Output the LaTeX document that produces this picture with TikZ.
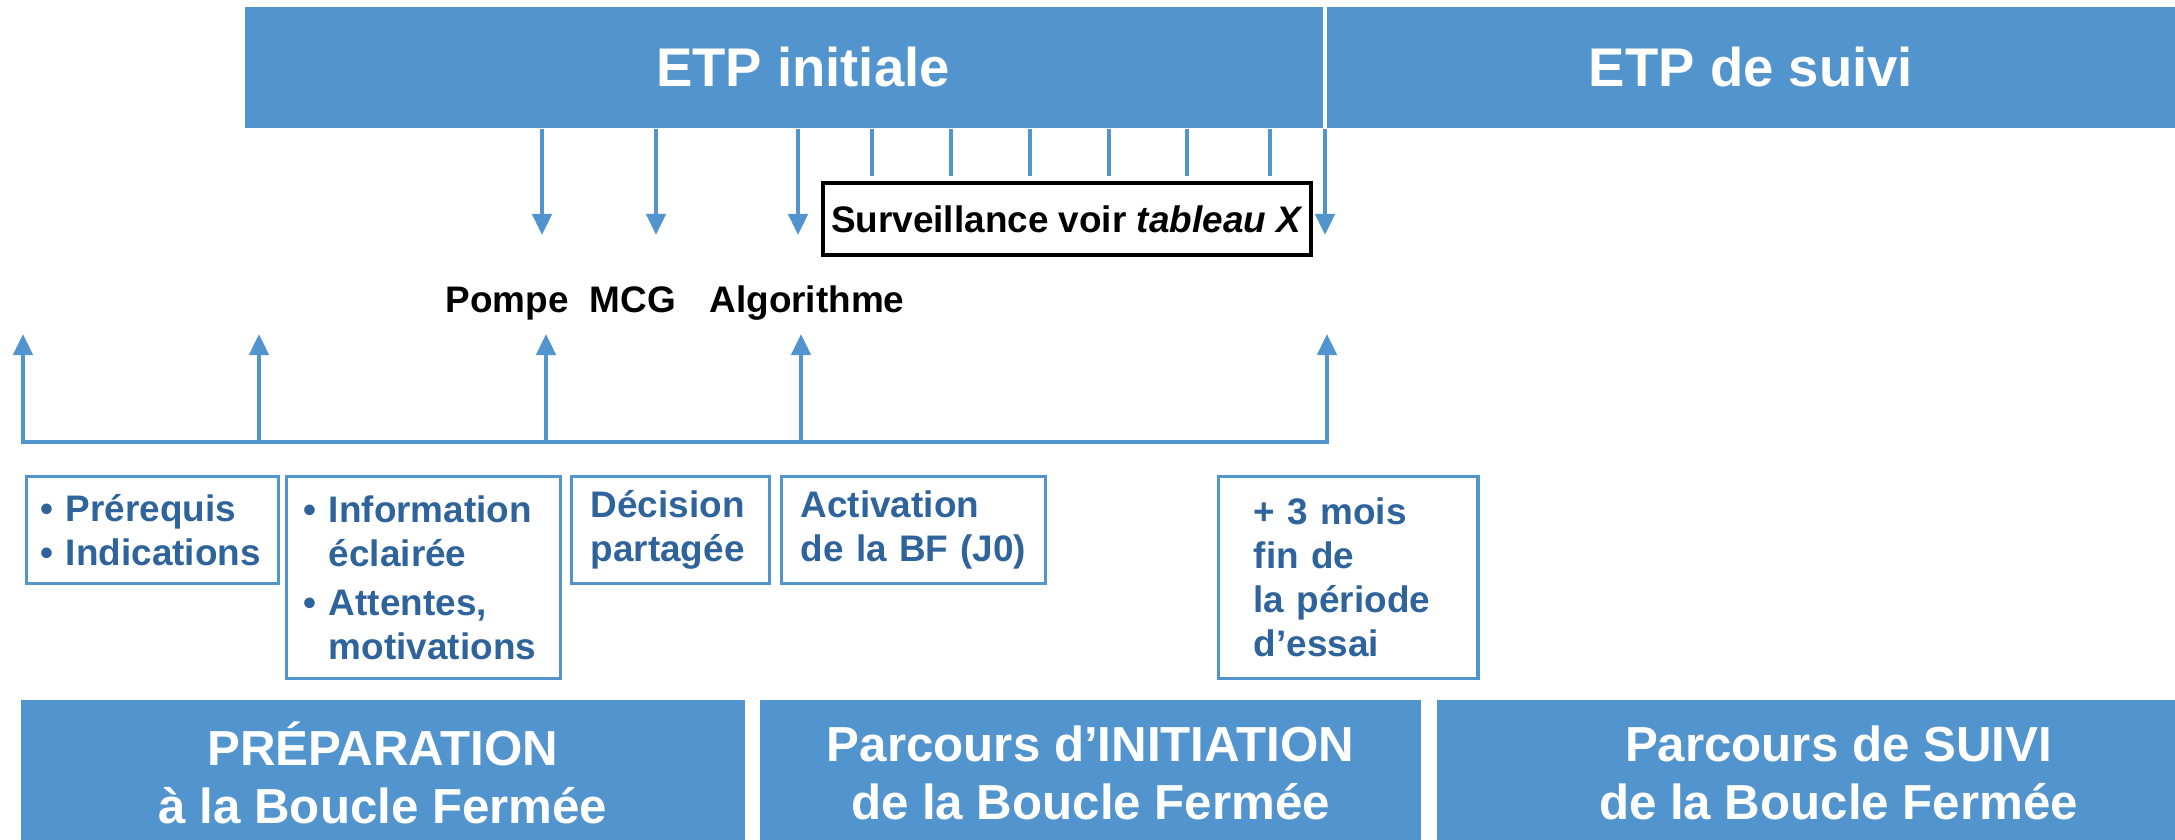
\documentclass[tikz,border=0pt]{standalone}
\usepackage{fontspec}
\setmainfont{Liberation Sans}
\usetikzlibrary{arrows.meta, positioning}
\definecolor{bfblue}{HTML}{5294CE}
\definecolor{bfdark}{HTML}{2F639B}

\begin{document}
\begin{tikzpicture}[
  x=0.01cm, y=-0.01cm,
  >={Triangle[width=5.5pt, length=6pt]},
  every node/.style={font=\bfseries\fontsize{10.5}{12.5}\selectfont},
  band/.style={rectangle, fill=bfblue, text=white, inner sep=0pt, align=center, minimum height=#1},
  hdrfont/.style={font=\bfseries\fontsize{15.5}{18}\selectfont},
  phasefont/.style={font=\bfseries\fontsize{14}{16.5}\selectfont},
  stage/.style={rectangle, draw=bfblue, line width=0.95pt, text=bfdark, align=left, inner ysep=0pt, minimum height=#1},
  survbox/.style={rectangle, draw=black, line width=1.1pt, minimum width=4.88cm, minimum height=0.72cm, inner sep=0pt},
  arrow/.style={->, line width=1.1pt, bfblue},
  tick/.style={line width=1.1pt, bfblue},
]
\useasboundingbox (0,0) rectangle (2175,840);

% ETP bands
\node[band=1.21cm, minimum width=10.78cm] (etpinit) at (784,67.5) {};
\node[hdrfont, text=white] (etpinittxt) at ([xshift=0.19cm]etpinit.center) {ETP initiale};
\node[band=1.21cm, minimum width=8.48cm, hdrfont] (etpsuivi) at (1751,67.5) {ETP de suivi};

\node[survbox] (surv) at (1067,219) {Surveillance voir \textit{tableau X}};

\node[anchor=base] (pompe) at (507,313) {Pompe};
\node[anchor=base] (mcg) at (633,313) {MCG};
\node[anchor=base] (algo) at (807,313) {Algorithme};

% steps
\node[stage=1.07cm, inner xsep=0.14cm, text width=2.24cm, anchor=north west] (prereq) at (25,475)
  {\textbullet~Prérequis\\\textbullet~Indications};
\node[stage=2.02cm, inner xsep=0.17cm, text width=2.40cm, right=0.045cm of prereq.north east, anchor=north west] (info)
  {\textbullet~Information\\\hphantom{\textbullet~}éclairée\\[1.5pt]\textbullet~Attentes,\\\hphantom{\textbullet~}motivations};
\node[stage=1.07cm, inner xsep=0.19cm, text width=1.60cm, right=0.075cm of info.north east, anchor=north west] (decision)
  {Décision\\partagée};
\node[stage=1.07cm, inner xsep=0.19cm, text width=2.26cm, right=0.085cm of decision.north east, anchor=north west] (activ)
  {Activation\\de la BF (J0)};
\node[stage=2.02cm, inner xsep=0.35cm, text width=1.89cm, anchor=north west] (essai) at (1217,475)
  {+ 3 mois\\fin de\\la période\\d’essai};

% phases
\node[band=1.45cm, minimum width=7.24cm, phasefont] (prep) at (383,772.5) {PRÉPARATION\\à la Boucle Fermée};
\node[band=1.45cm, minimum width=6.61cm, phasefont] (initiation) at (1090.5,772.5) {Parcours d’INITIATION\\de la Boucle Fermée};
\node[band=1.45cm, minimum width=8.03cm, phasefont] (suivi) at (1838.5,772.5) {Parcours de SUIVI\\de la Boucle Fermée};

% arrows down from ETP initiale
\coordinate (d1) at (542,235);
\coordinate (d2) at (656,235);
\coordinate (d3) at (798,235);
\coordinate (d4) at (1325,235);
\foreach \c in {d1,d2,d3,d4}
  \draw[arrow] (etpinit.south -| \c) -- (\c);
\foreach \x [count=\i] in {872,951,1030,1109,1187,1270} {
  \coordinate (t\i) at (\x,176);
  \draw[tick] (etpinit.south -| t\i) -- (t\i);
}

% time line with arrows up
\coordinate (bar) at (0,442);
\coordinate (u1) at (23,334);
\coordinate (u2) at (259,334);
\coordinate (u3) at (546,334);
\coordinate (u4) at (801,334);
\coordinate (u5) at (1327,334);
\draw[arrow, <->] (u1) |- (bar -| u5) -- (u5);
\foreach \c in {u2,u3,u4}
  \draw[arrow] (bar -| \c) -- (\c);

\end{tikzpicture}
\end{document}
